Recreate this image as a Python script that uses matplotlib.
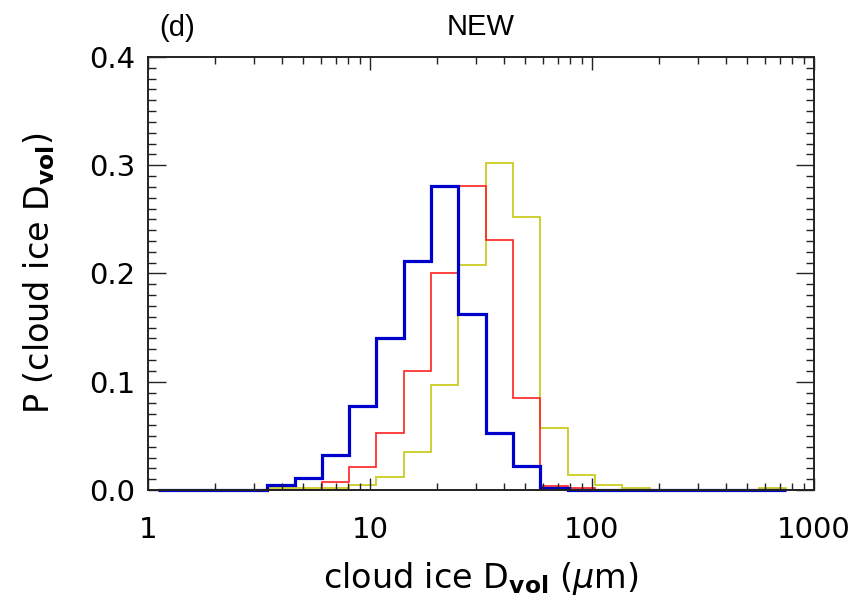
"""Histogram of cloud ice D_vol, panel (d) NEW."""
import matplotlib
matplotlib.use("Agg")
import matplotlib.pyplot as plt
from matplotlib.ticker import MultipleLocator, FixedLocator, NullFormatter

# bin edges in um (log-spaced)
EDGES = [1.109, 1.472, 1.954, 2.594, 3.443, 4.571, 6.067, 8.054, 10.69,
         14.19, 18.84, 25.00, 33.19, 44.06, 58.48, 77.62, 103.0, 136.8,
         181.6, 241.0, 319.9, 424.6, 563.6, 748.2]

BLUE = [0, 0, 0, 0, 0.005, 0.011, 0.032, 0.078, 0.140, 0.212, 0.281,
        0.163, 0.053, 0.022, 0.002, 0, 0, 0, 0, 0, 0, 0, 0]
RED = [0, 0, 0, 0, 0, 0, 0.0075, 0.021, 0.053, 0.110, 0.200,
       0.281, 0.231, 0.085, 0.004, 0.002, 0, 0, 0, 0, 0, 0, 0]
YELLOW = [0, 0, 0, 0, 0.0015, 0.0015, 0.0015, 0.0045, 0.012, 0.035, 0.097,
          0.208, 0.302, 0.252, 0.057, 0.0136, 0.0044, 0.0014, 0, 0, 0, 0,
          0.0014]

plt.rcParams["font.family"] = ["DejaVu Sans"]
plt.rcParams["mathtext.fontset"] = "dejavusans"

fig = plt.figure(figsize=(8.64, 5.98), dpi=100)
ax = fig.add_axes([0.1713, 0.1806, 0.7708, 0.7241])

ax.stairs(YELLOW, EDGES, color="#cccc22", lw=1.3, clip_on=False)
ax.stairs(RED, EDGES, color="#ff2020", lw=1.2, clip_on=False)
ax.stairs(BLUE, EDGES, color="#0000cc", lw=2.3, clip_on=False)

ax.set_xscale("log")
ax.set_xlim(1, 1000)
ax.set_ylim(0, 0.4)
ax.set_xticks([1, 10, 100, 1000])
ax.set_xticklabels(["1", "10", "100", "1000"])
ax.xaxis.set_minor_locator(FixedLocator(
    [m * 10 ** e for e in range(3) for m in range(2, 10)]))
ax.xaxis.set_minor_formatter(NullFormatter())
ax.yaxis.set_major_locator(MultipleLocator(0.1))
ax.yaxis.set_minor_locator(MultipleLocator(0.01))
ax.yaxis.set_major_formatter(plt.FormatStrFormatter("%.1f"))

ax.tick_params(which="both", direction="in", top=True, right=True,
               width=1.0, color="#222222")
ax.tick_params(axis="x", which="major", length=9, pad=19, labelsize=21)
ax.tick_params(axis="x", which="minor", length=5)
ax.tick_params(axis="y", which="major", length=13, pad=9, labelsize=21)
ax.tick_params(axis="y", which="minor", length=6)
for s in ax.spines.values():
    s.set_linewidth(1.4)
    s.set_color("#222222")

ax.set_xlabel(r"cloud ice D$_{\mathbf{vol}}$ ($\mu$m)", fontsize=24,
              labelpad=11)
ax.set_ylabel(r"P (cloud ice D$_{\mathbf{vol}}$)", fontsize=24, labelpad=23)

ax.set_title("NEW", fontsize=21, pad=16, family=["Liberation Sans"])
fig.text(0.205, 0.953, "(d)", fontsize=21, ha="center", va="center",
         family=["Liberation Sans"])

fig.savefig("out.png", dpi=100)
